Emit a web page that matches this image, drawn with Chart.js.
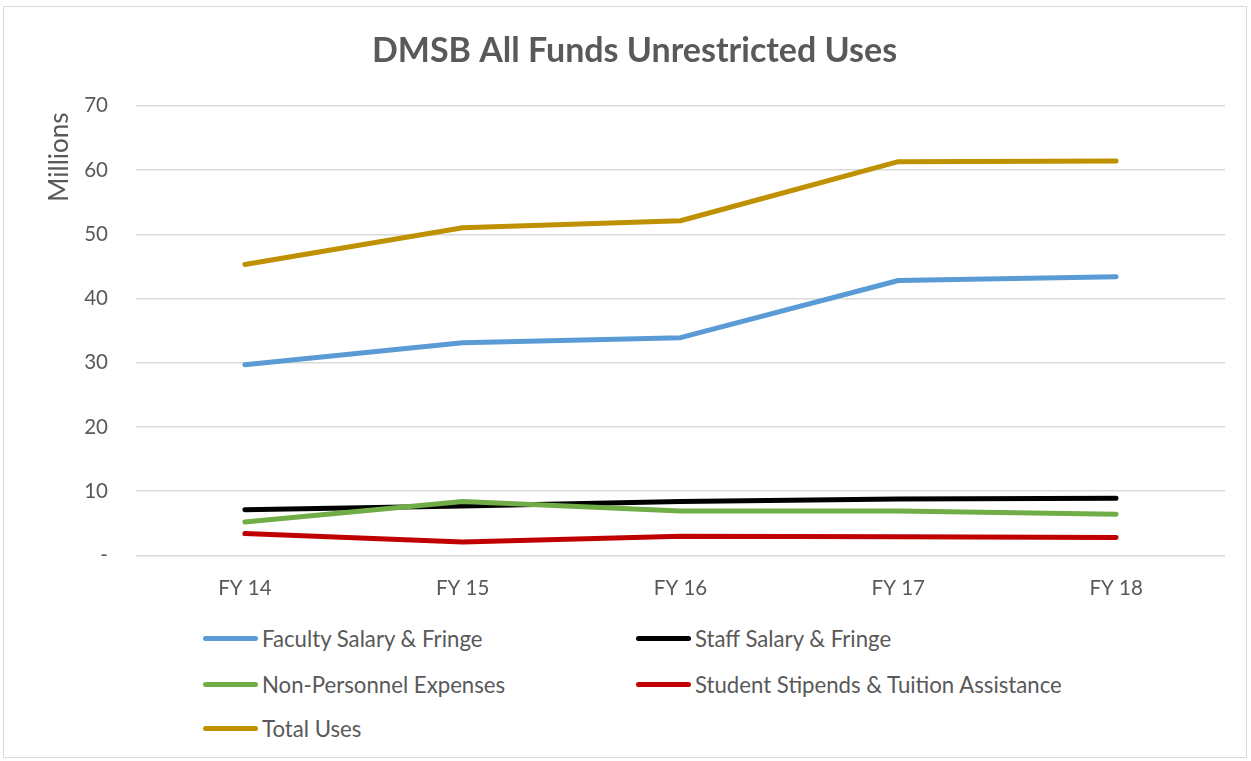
<!DOCTYPE html>
<html>
<head>
<meta charset="utf-8">
<script src="https://cdn.jsdelivr.net/npm/chart.js@4/dist/chart.umd.min.js"></script>
<style>
  body { margin: 0; background: #fff; font-family: Lato, "Open Sans", sans-serif; }
  #frame { position: absolute; left: 3px; top: 6px; width: 1244px; height: 752px; border: 1px solid #d9d9d9; box-sizing: border-box; }
  #wrap { position: absolute; left: 0; top: 0; width: 1251px; height: 618px; }
  #legend { position: absolute; left: 0; top: 0; }
  .item { position: absolute; display: flex; align-items: center; font-size: 22.2px; color: #595959; white-space: nowrap; }
  .swatch { width: 55px; height: 5px; border-radius: 3px; margin-right: 4px; }
</style>
</head>
<body>
<div id="frame"></div>
<div id="wrap"><canvas id="chart"></canvas></div>
<div id="legend"></div>
<script>
const categories = ['FY 14', 'FY 15', 'FY 16', 'FY 17', 'FY 18'];
const faculty = [29.7, 33.1, 33.9, 42.8, 43.4];
const staff = [7.1, 7.7, 8.4, 8.8, 8.9];
const nonPersonnel = [5.2, 8.4, 6.9, 6.9, 6.4];
const stipends = [3.4, 2.1, 3.0, 2.9, 2.8];
const totalUses = [45.3, 51.0, 52.1, 61.3, 61.4];

const seriesNames = ['Faculty Salary & Fringe', 'Staff Salary & Fringe', 'Non-Personnel Expenses',
  'Student Stipends & Tuition Assistance', 'Total Uses'];
const seriesData = [faculty, staff, nonPersonnel, stipends, totalUses];
const colors = ['#5b9bd5', '#000000', '#70ad47', '#c00000', '#bf9000'];

const grey = '#595959';

const chart = new Chart(document.getElementById('chart').getContext('2d'), {
  type: 'line',
  data: {
    labels: categories,
    datasets: seriesNames.map((name, i) => ({
      label: name,
      data: seriesData[i],
      borderColor: colors[i],
      backgroundColor: colors[i],
      borderWidth: 5,
      borderCapStyle: 'round',
      borderJoinStyle: 'round',
      pointRadius: 0,
      tension: 0,
      order: seriesNames.length - i,
    })),
  },
  options: {
    responsive: true,
    maintainAspectRatio: false,
    animation: false,
    layout: { padding: { left: 44, right: 26, top: 8, bottom: 4 } },
    plugins: {
      legend: { display: false },
      tooltip: { enabled: false },
      title: {
        display: true,
        text: 'DMSB All Funds Unrestricted Uses',
        color: grey,
        font: { family: 'Lato', size: 34, weight: 'bold' },
        padding: { top: 23, bottom: 34 },
      },
    },
    scales: {
      x: {
        offset: true,
        grid: { display: false },
        border: { display: false },
        ticks: { color: grey, font: { family: 'Lato', size: 20.5 }, padding: 13 },
      },
      y: {
        min: 0,
        max: 70,
        ticks: {
          stepSize: 10,
          color: grey,
          font: { family: 'Lato', size: 20.5 },
          padding: 28,
          callback: v => (v === 0 ? '-' : v),
        },
        grid: { color: '#d9d9d9', lineWidth: 1.5, drawTicks: false },
        border: { display: false },
        title: {
          display: true,
          text: 'Millions ',
          align: 'end',
          color: grey,
          font: { family: 'Lato', size: 26 },
          padding: { top: 0, bottom: -19 },
        },
      },
    },
  },
});

// legend in two columns, like the original
const legend = document.getElementById('legend');
const spots = [[203, 639], [636, 639], [203, 685], [636, 685], [203, 729]];
seriesNames.forEach((name, i) => {
  const el = document.createElement('div');
  el.className = 'item';
  el.style.left = spots[i][0] + 'px';
  el.style.top = (spots[i][1] - 14) + 'px';
  el.innerHTML = '<span class="swatch" style="background:' + colors[i] + '"></span>';
  el.appendChild(document.createTextNode(name));
  legend.appendChild(el);
});
</script>
</body>
</html>
